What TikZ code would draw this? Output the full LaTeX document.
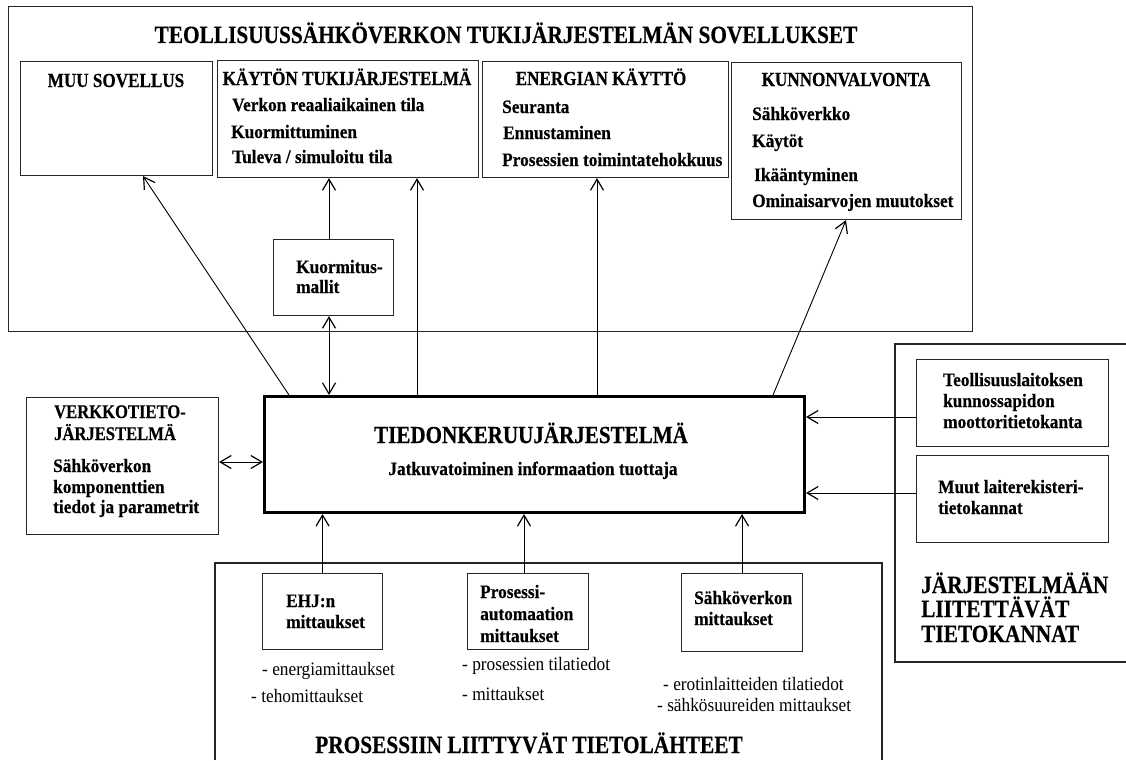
\documentclass[tikz,border=0pt]{standalone}
\usepackage{fontspec}
\setmainfont{Liberation Serif}[FakeStretch=0.91, BoldFeatures={FakeBold=0.4}]
\newfontfamily\capsf{Liberation Serif}[FakeStretch=0.86, BoldFeatures={FakeBold=0.4}]
\usetikzlibrary{arrows.meta}
\begin{document}
\begin{tikzpicture}[x=1pt,y=-1pt,
  box/.style={draw=black!85, line width=1.1pt, inner sep=0pt, anchor=north west},
  frame/.style={draw=black!85, line width=1.1pt},
  tbig/.style={font=\capsf\bfseries\fontsize{24.8}{29}\selectfont, inner sep=0pt, anchor=base},
  thead/.style={font=\capsf\bfseries\fontsize{19.9}{22}\selectfont, inner sep=0pt, anchor=base},
  tb/.style={font=\bfseries\fontsize{19}{21}\selectfont, inner sep=0pt, anchor=base west},
  tr/.style={font=\fontsize{19}{21}\selectfont, inner sep=0pt, anchor=base west},
  tip/.tip={Straight Barb[length=11pt,width=13pt,line width=1.2pt]},
  arr/.style={-tip, line width=0.9pt},
  darr/.style={tip-tip, line width=0.9pt}]
\useasboundingbox (0,0) rectangle (1126,760);
\fill[white] (0,0) rectangle (1126,760);

% containers
\node[box, minimum width=964pt, minimum height=325pt] (top) at (8,6) {};
\draw[frame] (1126,344) -| (895,662) -- (1126,662);
\draw[frame] (215,760) |- (882,563) -- (882,760);

% top title
\node[tbig] (ttitle) at (506,43) {TEOLLISUUSSÄHKÖVERKON TUKIJÄRJESTELMÄN SOVELLUKSET};

% application boxes
\node[box, minimum width=192pt, minimum height=114pt] (muu) at (20,61) {};
\node[box, minimum width=261pt, minimum height=117pt] (kaytto) at (217,60) {};
\node[box, minimum width=246pt, minimum height=116pt] (energ) at (482,61) {};
\node[box, minimum width=230pt, minimum height=157pt] (kunn) at (731,62) {};
\node[box, minimum width=120pt, minimum height=76pt] (kuorm) at (273,239) {};

\node[thead] (muut1) at (116,87) {MUU SOVELLUS};
\node[thead] (kayt1) at (347,85) {KÄYTÖN TUKIJÄRJESTELMÄ};
\node[tb] (kayt2) at (232,111) {Verkon reaaliaikainen tila};
\node[tb] (kayt3) at (231,138) {Kuormittuminen};
\node[tb] (kayt4) at (232,163) {Tuleva / simuloitu tila};
\node[thead] (ener1) at (601,85) {ENERGIAN KÄYTTÖ};
\node[tb] (ener2) at (502,113) {Seuranta};
\node[tb] (ener3) at (503,139) {Ennustaminen};
\node[tb] (ener4) at (502,166) {Prosessien toimintatehokkuus};
\node[thead] (kunn1) at (846,86) {KUNNONVALVONTA};
\node[tb] (kunn2) at (752,120) {Sähköverkko};
\node[tb] (kunn3) at (752,147) {Käytöt};
\node[tb] (kunn4) at (754,181) {Ikääntyminen};
\node[tb] (kunn5) at (752,207) {Ominaisarvojen muutokset};
\node[tb] (kuo1) at (296,273) {Kuormitus-};
\node[tb] (kuo2) at (296,293) {mallit};

% central box
\node[box, minimum width=540pt, minimum height=116pt, line width=3pt, draw=black] (tied) at (263,395) {};
\node[font=\capsf\bfseries\fontsize{24.5}{29}\selectfont, inner sep=0pt, anchor=base] (tied1) at (531,443) {TIEDONKERUUJÄRJESTELMÄ};
\node[font=\bfseries\fontsize{19}{21}\selectfont, inner sep=0pt, anchor=base] (tied2) at (533,475) {Jatkuvatoiminen informaation tuottaja};

% left box
\node[box, minimum width=192pt, minimum height=137pt] (verk) at (26,397) {};
\node[font=\capsf\bfseries\fontsize{19.3}{22}\selectfont, inner sep=0pt, anchor=base west] (verk1) at (54,418) {VERKKOTIETO-};
\node[font=\capsf\bfseries\fontsize{19.3}{22}\selectfont, inner sep=0pt, anchor=base west] (verk2) at (54,440) {JÄRJESTELMÄ};
\node[tb] (verk3) at (53,472) {Sähköverkon};
\node[tb] (verk4) at (53,493) {komponenttien};
\node[tb] (verk5) at (53,513) {tiedot ja parametrit};

% right databases
\node[box, minimum width=192pt, minimum height=87pt] (teoll) at (916,359) {};
\node[box, minimum width=192pt, minimum height=87pt] (muutl) at (916,455) {};
\node[tb] (teo1) at (943,386) {Teollisuuslaitoksen};
\node[tb] (teo2) at (943,407) {kunnossapidon};
\node[tb] (teo3) at (943,428) {moottoritietokanta};
\node[tb] (muu1) at (938,493) {Muut laiterekisteri-};
\node[tb] (muu2) at (938,514) {tietokannat};
\node[font=\capsf\bfseries\fontsize{24.8}{29}\selectfont, inner sep=0pt, anchor=base west] (db1) at (921,593) {JÄRJESTELMÄÄN};
\node[font=\capsf\bfseries\fontsize{24.8}{29}\selectfont, inner sep=0pt, anchor=base west] (db2) at (921,617) {LIITETTÄVÄT};
\node[font=\capsf\bfseries\fontsize{24.8}{29}\selectfont, inner sep=0pt, anchor=base west] (db3) at (921,642) {TIETOKANNAT};

% bottom sources
\node[box, minimum width=120pt, minimum height=76pt] (ehj) at (262,573) {};
\node[box, minimum width=121pt, minimum height=76pt] (pros) at (467,573) {};
\node[box, minimum width=121pt, minimum height=78pt] (sahk) at (681,573) {};
\node[tb] (ehj1) at (286,607) {EHJ:n};
\node[tb] (ehj2) at (286,628) {mittaukset};
\node[tb] (pro1) at (480,598) {Prosessi-};
\node[tb] (pro2) at (480,620) {automaation};
\node[tb] (pro3) at (480,642) {mittaukset};
\node[tb] (sah1) at (694,604) {Sähköverkon};
\node[tb] (sah2) at (694,625) {mittaukset};
\node[tr] (ehj3) at (262,675) {- energiamittaukset};
\node[tr] (ehj4) at (251,702) {- tehomittaukset};
\node[tr] (pro4) at (462,670) {- prosessien tilatiedot};
\node[tr] (pro5) at (462,700) {- mittaukset};
\node[tr] (sah3) at (663,690) {- erotinlaitteiden tilatiedot};
\node[tr] (sah4) at (657,711) {- sähkösuureiden mittaukset};
\node[tbig] (btitle) at (529,753) {PROSESSIIN LIITTYVÄT TIETOLÄHTEET};

% connectors
\coordinate (c1) at ([xshift=26pt]tied.north west);
\coordinate (c1e) at ([xshift=123pt]muu.south west);
\draw[arr] (c1) -- (c1e);
\coordinate (k1) at ([xshift=56pt]kuorm.north west);
\draw[arr] (k1) -- (k1 |- kaytto.south);
\coordinate (k2) at ([xshift=56pt]kuorm.south west);
\draw[darr] (k2) -- (k2 |- tied.north);
\coordinate (c4) at ([xshift=154pt]tied.north west);
\draw[arr] (c4) -- (c4 |- kaytto.south);
\coordinate (c5) at ([xshift=334pt]tied.north west);
\draw[arr] (c5) -- (c5 |- energ.south);
\coordinate (c6) at ([xshift=510pt]tied.north west);
\coordinate (c6e) at ([xshift=115pt]kunn.south west);
\draw[arr] (c6) -- (c6e);
\coordinate (v1) at ([yshift=-65pt]verk.north east);
\draw[darr] (v1) -- (v1 -| tied.west);
\coordinate (t1) at ([yshift=-58pt]teoll.north west);
\draw[arr] (t1) -- (t1 -| tied.east);
\coordinate (t2) at ([yshift=-38pt]muutl.north west);
\draw[arr] (t2) -- (t2 -| tied.east);
\draw[arr] (ehj.north) -- (ehj.north |- tied.south);
\coordinate (p1) at ([xshift=57pt]pros.north west);
\draw[arr] (p1) -- (p1 |- tied.south);
\draw[arr] (sahk.north) -- (sahk.north |- tied.south);
\end{tikzpicture}
\end{document}
